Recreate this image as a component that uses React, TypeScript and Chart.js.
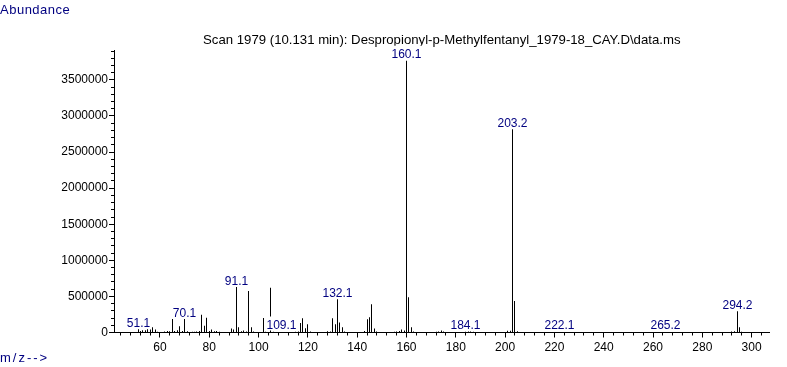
import React, { useEffect, useRef } from "react";
import { Chart, registerables } from "chart.js";

Chart.register(...registerables);

const TITLE = "Scan 1979 (10.131 min): Despropionyl-p-Methylfentanyl_1979-18_CAY.D\\data.ms";
const Y_TITLE = "Abundance";
const X_TITLE = "m/z-->";

const mzValues = [
  51.1, 52, 53, 54, 55, 56, 57, 58, 59, 62, 63, 64, 65, 66, 67, 68, 69, 70.1, 71, 73, 74, 75, 76, 77, 78, 79, 80, 81, 82, 83, 84,
  89, 90, 91.1, 92, 93, 94, 95, 96, 97, 98, 102, 103, 105, 106, 109.1, 115, 116, 117, 118, 119, 120, 121,
  128, 129, 130, 131, 132.1, 133, 134, 135, 143, 144, 145, 146, 147, 148,
  155, 156, 157, 158, 159, 160.1, 161, 162, 163, 170, 172, 173, 174, 175,
  184.1, 185, 186, 187, 188, 201, 202, 203.2, 204, 205, 206, 222.1, 265.2, 292, 293, 294.2, 295, 296,
];
const abundances = [
  45000, 22000, 30000, 32000, 45000, 40000, 72000, 40000, 10000, 15000, 20000, 18000, 187000, 20000, 32000, 85000, 20000, 187000, 18000, 10000, 12000, 15000, 20000, 245000, 95000, 205000, 20000, 42000, 18000, 22000, 10000,
  55000, 42000, 630000, 72000, 18000, 28000, 15000, 575000, 72000, 15000, 200000, 10000, 621000, 12000, 5000, 10000, 15000, 130000, 197000, 58000, 115000, 14000,
  18000, 15000, 197000, 115000, 460000, 140000, 72000, 15000, 20000, 183000, 213000, 390000, 56000, 14000,
  10000, 15000, 20000, 40000, 28000, 3766000, 490000, 72000, 15000, 8000, 12000, 15000, 28000, 14000,
  12000, 14000, 15000, 12000, 8000, 25000, 25000, 2816000, 435000, 18000, 8000, 4000, 4000, 15000, 18000, 296000, 72000, 12000,
];
const labeledPeaks = [51.1, 70.1, 91.1, 109.1, 132.1, 160.1, 184.1, 203.2, 222.1, 265.2, 294.2];

const xMajorTicks = [60, 80, 100, 120, 140, 160, 180, 200, 220, 240, 260, 280, 300];
const yMajorTicks = [0, 500000, 1000000, 1500000, 2000000, 2500000, 3000000, 3500000];
const X_MIN = 41.34;
const X_MAX = 307.26;
const Y_MAX = 3914000;
const X_MINOR_STEP = 4;
const Y_MINOR_STEP = 100000;

const FONT = '"Liberation Sans", Arial, sans-serif';
const NAVY = "#000080";

const crispBars = {
  id: "crispBars",
  beforeDatasetsDraw(chart: any) {
    chart.getDatasetMeta(0).data.forEach((el: any) => {
      el.x = Math.floor(el.x) + 0.5;
    });
  },
};

const textPlugin = {
  id: "texts",
  beforeDatasetsDraw(chart: any) {
    const { ctx, chartArea } = chart;
    ctx.save();
    ctx.textBaseline = "alphabetic";
    ctx.fillStyle = "#000000";
    ctx.textAlign = "center";
    ctx.font = `13.2px ${FONT}`;
    ctx.fillText(TITLE, (chartArea.left + chartArea.right) / 2, 43.5);
    ctx.fillStyle = NAVY;
    ctx.textAlign = "left";
    ctx.font = `13px ${FONT}`;
    (ctx as any).letterSpacing = "0.5px";
    ctx.fillText(Y_TITLE, 0, 13.5);
    (ctx as any).letterSpacing = "2px";
    ctx.fillText(X_TITLE, 0, 361.5);
    (ctx as any).letterSpacing = "0px";
    ctx.restore();
  },
};

const minorTicks = {
  id: "minorTicks",
  afterDraw(chart: any) {
    const { ctx } = chart;
    const xs = chart.scales.x;
    const ys = chart.scales.y;
    ctx.save();
    ctx.strokeStyle = "#000000";
    ctx.lineWidth = 1;
    ctx.beginPath();
    const x0 = Math.ceil(X_MIN / X_MINOR_STEP) * X_MINOR_STEP;
    for (let v = x0; v <= X_MAX; v += X_MINOR_STEP) {
      if (v % 20 === 0) continue;
      const px = Math.floor(xs.getPixelForValue(v)) + 0.5;
      ctx.moveTo(px, ys.bottom);
      ctx.lineTo(px, ys.bottom + 3);
    }
    for (let v = Y_MINOR_STEP; v <= Y_MAX; v += Y_MINOR_STEP) {
      if (v % 500000 === 0) continue;
      const py = Math.floor(ys.getPixelForValue(v)) + 0.5;
      ctx.moveTo(xs.left, py);
      ctx.lineTo(xs.left - 3, py);
    }
    ctx.stroke();
    ctx.restore();
  },
};

const peakLabels = {
  id: "peakLabels",
  afterDatasetsDraw(chart: any) {
    const { ctx } = chart;
    const xs = chart.scales.x;
    const ys = chart.scales.y;
    ctx.save();
    ctx.font = `12px ${FONT}`;
    ctx.textAlign = "center";
    ctx.textBaseline = "alphabetic";
    labeledPeaks.forEach((mz) => {
      const idx = mzValues.indexOf(mz);
      const val = abundances[idx];
      const px = Math.floor(xs.getPixelForValue(mz)) + 0.5;
      const top = ys.getPixelForValue(val);
      const baseline = Math.min(top - 2.5, ys.bottom - 3.5);
      const text = mz.toFixed(1);
      const w = ctx.measureText(text).width;
      ctx.fillStyle = "#ffffff";
      ctx.fillRect(px - w / 2 - 1, baseline - 12.5, w + 2, 14);
      ctx.fillStyle = NAVY;
      ctx.fillText(text, px, baseline);
    });
    ctx.restore();
  },
};

export default function App() {
  const ref = useRef<HTMLCanvasElement | null>(null);
  useEffect(() => {
    if (!ref.current) return;
    Chart.defaults.font.family = FONT;
    Chart.defaults.font.size = 12;
    Chart.defaults.color = "#000000";
    const chart = new Chart(ref.current, {
      type: "bar",
      data: {
        datasets: [
          {
            data: mzValues.map((x, i) => ({ x, y: abundances[i] })),
            backgroundColor: "#000000",
            borderWidth: 0,
            barThickness: 1,
            inflateAmount: 0,
          } as any,
        ],
      },
      options: {
        animation: false,
        responsive: false,
        events: [],
        layout: { padding: { left: 0, top: 50, right: 17.5, bottom: 0 } },
        plugins: { legend: { display: false }, tooltip: { enabled: false }, title: { display: false } },
        scales: {
          x: {
            type: "linear",
            min: X_MIN,
            max: X_MAX,
            offset: false,
            grid: { display: true, offset: false, drawOnChartArea: false, drawTicks: true, tickLength: 5, color: "#000000" },
            border: { display: true, color: "#000000", width: 1 },
            ticks: {
              autoSkip: false,
              maxRotation: 0,
              padding: 3,
              color: "#000000",
              font: { size: 12, family: FONT },
              callback: (v: any) => String(v),
            },
            afterBuildTicks: (scale: any) => {
              scale.ticks = xMajorTicks.map((value) => ({ value }));
            },
            afterFit: (scale: any) => {
              scale.height = 34.5;
            },
          },
          y: {
            type: "linear",
            min: 0,
            max: Y_MAX,
            grid: { display: true, drawOnChartArea: false, drawTicks: true, tickLength: 5, color: "#000000" },
            border: { display: true, color: "#000000", width: 1 },
            ticks: {
              padding: 1,
              color: "#000000",
              font: { size: 12, family: FONT },
              callback: (v: any) => String(v),
            },
            afterBuildTicks: (scale: any) => {
              scale.ticks = yMajorTicks.map((value) => ({ value }));
            },
            afterFit: (scale: any) => {
              scale.width = 114;
            },
          },
        },
      } as any,
      plugins: [crispBars, textPlugin, peakLabels, minorTicks],
    });
    return () => chart.destroy();
  }, []);
  return (
    <div style={{ position: "fixed", left: 0, top: 0, width: 787, height: 367, background: "#ffffff" }}>
      <canvas ref={ref} width={787} height={367} style={{ width: 787, height: 367, display: "block" }} />
    </div>
  );
}
